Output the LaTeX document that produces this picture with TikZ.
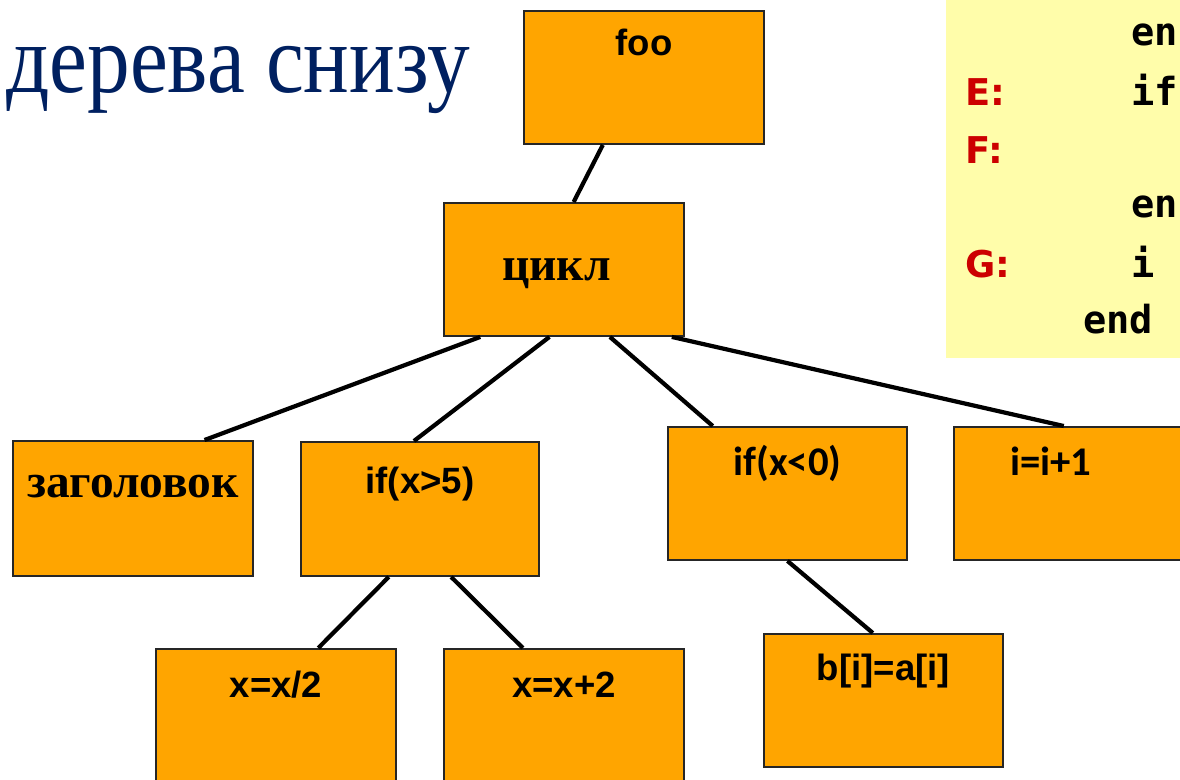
\documentclass[tikz,border=0pt]{standalone}
\usepackage{fontspec}
\setmainfont{Liberation Serif}
\newfontfamily\arialfont{Liberation Sans}
\newfontfamily\calibrifont{Carlito}
\newfontfamily\codefont{DejaVu Sans Mono}
\newfontfamily\tagfont{DejaVu Sans}
\usepackage{graphicx}
\usepackage{xcolor}
\usepackage{tikz}
\usetikzlibrary{positioning, calc}

\definecolor{boxorange}{RGB}{255,165,0}
\definecolor{codeyellow}{RGB}{255,253,170}
\definecolor{titleblue}{RGB}{0,32,96}
\definecolor{tagred}{RGB}{204,0,0}

\tikzset{
  box/.style={draw=black!85, line width=1.1pt, fill=boxorange, inner sep=0pt,
    minimum width=4.8cm, text height=0.98cm, text depth=1.68cm,
    font={\arialfont\bfseries\fontsize{20.8pt}{25pt}\selectfont}},
  serifbox/.style={box, font={\rmfamily\bfseries\fontsize{27pt}{32pt}\selectfont}},
  calibox/.style={box, font={\calibrifont\bfseries\fontsize{23.2pt}{28pt}\selectfont}},
  link/.style={line width=2.4pt, black},
  code/.style={inner sep=0pt, anchor=base west,
    font={\codefont\bfseries\fontsize{22pt}{26pt}\selectfont}},
  tag/.style={inner sep=0pt, anchor=base west, text=tagred,
    font={\tagfont\bfseries\fontsize{21pt}{26pt}\selectfont}}
}

\begin{document}
\begin{tikzpicture}[x=0.02cm, y=-0.02cm]
\useasboundingbox (0,0) rectangle (1180,779);
\clip (0,0) rectangle (1180,779);

% Title
\node[inner sep=0pt, anchor=base west, text=titleblue,
  font={\fontsize{48.5pt}{56pt}\selectfont}] (title) at (6,92) {\scalebox{1}[1.15]{дерева снизу}};

% Code listing
\fill[codeyellow] (946,-5) rectangle (1185,358);
\node[code] (l1) at (1131,45) {en};
\node[tag] (te) at (965,105) {E:};
\node[code] (l2) at (1131,105) {if};
\node[tag] (tf) at (965,163) {F:};
\node[code] (l3) at (1131,217) {en};
\node[tag] (tg) at (965,277) {G:};
\node[code] (l4) at (1131,277) {i};
\node[code] (l5) at (1083,333) {end};

% Tree: level 0 and 1
\node[box, anchor=north west, text height=0.9cm, text depth=1.76cm] (foo) at (523,10) {foo};
\node[serifbox, anchor=north west, text height=1.56cm, text depth=1.1cm] (cikl) at (443,202) {цикл\kern0.3cm};

% Level 2
\node[serifbox, anchor=north west, text height=1.14cm, text depth=1.56cm] (head) at (12,440) {заголовок};
\node[box, anchor=north west, minimum width=4.76cm, text height=1.04cm, text depth=1.64cm] (ifa) at (300,441) {if(x>5)};
\node[calibox, anchor=north west, minimum width=4.78cm] (ifb) at (667,426) {if(x<0)};
\node[calibox, anchor=north west] (inc) at (953,426) {i=i+1\kern0.92cm};

% Level 3
\node[box, anchor=north west] (half) at (155,648) {x=x/2};
\node[box, anchor=north west] (plus) at (443,648) {x=x+2};
\node[box, anchor=north west, minimum width=4.78cm, text height=0.94cm, text depth=1.72cm] (copy) at (763,633) {b[i]=a[i]};

% Connectors
\draw[link] ($(foo.south west)!.33!(foo.south east)$) -- ($(cikl.north west)!.54!(cikl.north east)$);
\draw[link] ($(cikl.south west)!.154!(cikl.south east)$) -- ($(head.north west)!.796!(head.north east)$);
\draw[link] ($(cikl.south west)!.44!(cikl.south east)$) -- ($(ifa.north west)!.475!(ifa.north east)$);
\draw[link] ($(cikl.south west)!.69!(cikl.south east)$) -- ($(ifb.north west)!.19!(ifb.north east)$);
\draw[link] ($(cikl.south west)!.946!(cikl.south east)$) -- ($(inc.north west)!.458!(inc.north east)$);
\draw[link] ($(ifa.south west)!.37!(ifa.south east)$) -- ($(half.north west)!.675!(half.north east)$);
\draw[link] ($(ifa.south west)!.63!(ifa.south east)$) -- ($(plus.north west)!.33!(plus.north east)$);
\draw[link] ($(ifb.south west)!.5!(ifb.south east)$) -- ($(copy.north west)!.456!(copy.north east)$);
\end{tikzpicture}
\end{document}
